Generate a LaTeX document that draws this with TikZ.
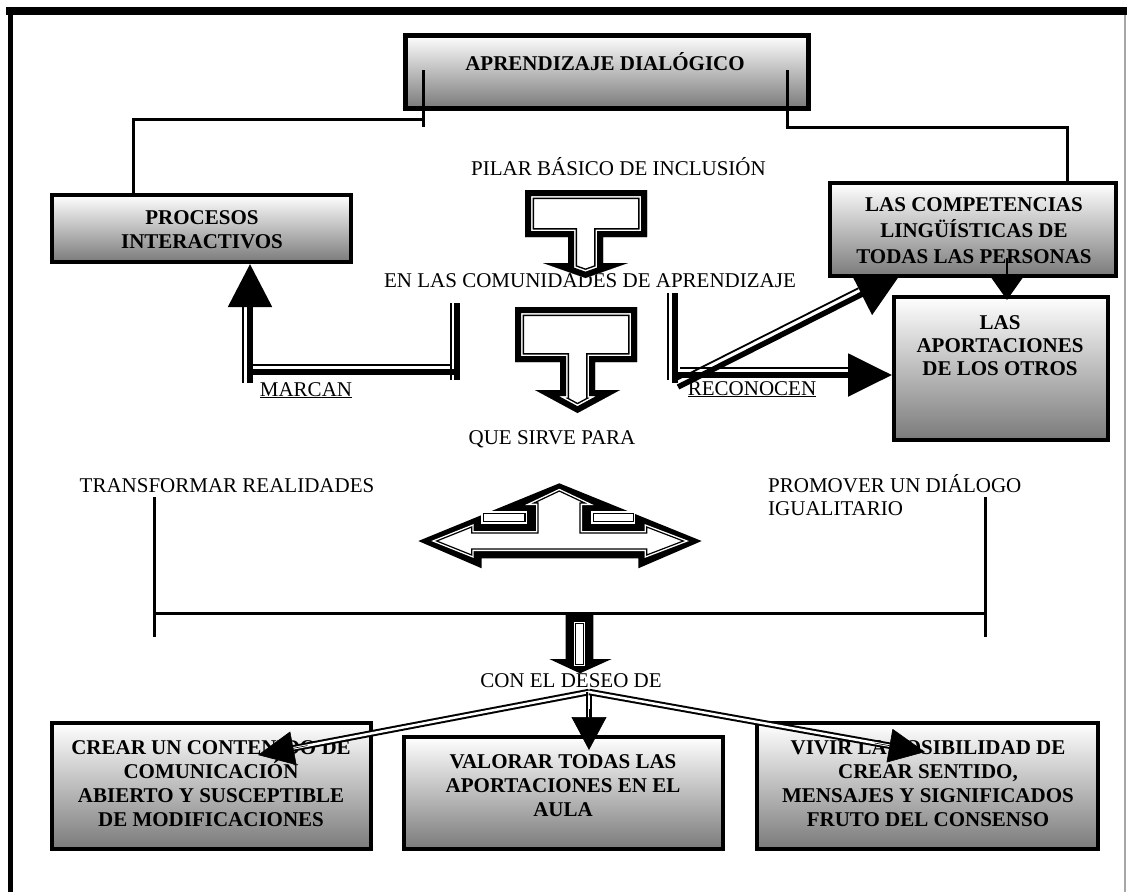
\documentclass[tikz,border=0pt]{standalone}
\usepackage{fontspec}
\setmainfont{Liberation Serif}
\usetikzlibrary{arrows.meta,calc}
\pgfdeclarelayer{bg}
\pgfsetlayers{bg,main}
\tikzset{
  box/.style={draw=black, line width=4pt, top color=white, bottom color=black!52, inner sep=0pt, line join=miter},
  btxt/.style={inner sep=0pt, align=center, font=\bfseries\fontsize{21}{24}\selectfont},
  lbl/.style={inner sep=0pt, anchor=base, font=\fontsize{21}{24}\selectfont},
  conn/.style={line width=3pt, line join=miter},
  thk/.style={line width=5.5pt},
  thn/.style={line width=1.8pt},
  bigtip/.style={-{Triangle[length=43pt,width=43pt]}},
  dbl/.style={double=white, double distance=2.5pt, line width=2pt},
  smalltip/.style={line width=0.6pt, -{Triangle[length=36pt,width=34pt]}},
}
\newcommand\blockarrowdraw[1]{%
  \begin{scope}
    \clip #1;
    \fill[white] #1;
    \draw[line width=18pt, line join=miter] #1;
    \draw[white, line width=15pt, line join=miter] #1;
    \draw[line width=12pt, line join=miter] #1;
  \end{scope}}
\begin{document}
\begin{tikzpicture}[x=1pt,y=-1pt]
\useasboundingbox (0,0) rectangle (1127,892);
% frame
\coordinate (fTL) at (6,11); \coordinate (fTR) at (1127,11);
\coordinate (fL1) at (10,7); \coordinate (fL2) at (10,892);
\coordinate (fR1) at (1125,15); \coordinate (fR2) at (1125,892);
\draw[line width=8pt] (fTL) -- (fTR);
\draw[line width=5pt] (fL1) -- (fL2);
\draw[gray!70, line width=1.5pt] (fR1) -- (fR2);

% boxes
\node[box, line width=5pt, minimum width=403pt, minimum height=73pt] (title) at (606.5,71.5) {};
\node[box, minimum width=299pt, minimum height=67pt] (proc) at (201.5,228.5) {};
\node[box, minimum width=286pt, minimum height=93pt] (comp) at (973,229.5) {};
\node[box, minimum width=214pt, minimum height=143pt] (aport) at (1001,368.5) {};
\node[box, minimum width=319pt, minimum height=126pt] (crear) at (211.5,786) {};
\node[box, minimum width=319pt, minimum height=112pt] (valor) at (563.5,793) {};
\node[box, minimum width=341pt, minimum height=126pt] (vivir) at (927.5,786) {};

% box texts
\node[btxt] (titleT) at (605,61.5) {APRENDIZAJE DIALÓGICO};
\node[btxt] (procT) at (202,230) {PROCESOS\\INTERACTIVOS};
\node[btxt, font=\bfseries\fontsize{21}{26}\selectfont] (compT) at (974,230.5) {LAS COMPETENCIAS\\LINGÜÍSTICAS DE\\TODAS LAS PERSONAS};
\node[btxt, font=\bfseries\fontsize{21}{23}\selectfont] (aportT) at (1000,346) {LAS\\APORTACIONES\\DE LOS OTROS};
\node[btxt] (crearT) at (211,784) {CREAR UN CONTENIDO DE\\COMUNICACIÓN\\ABIERTO Y SUSCEPTIBLE\\DE MODIFICACIONES};
\node[btxt] (valorT) at (563,786) {VALORAR TODAS LAS\\APORTACIONES EN EL\\AULA};
\node[btxt] (vivirT) at (928,784) {VIVIR LA POSIBILIDAD DE\\CREAR SENTIDO,\\MENSAJES Y SIGNIFICADOS\\FRUTO DEL CONSENSO};

% labels
\node[lbl] (pilar) at (618.5,175) {PILAR BÁSICO DE INCLUSIÓN};
\node[lbl] (comun) at (590,287) {EN LAS COMUNIDADES DE APRENDIZAJE};
\node[lbl] (sirve) at (552,444) {QUE SIRVE PARA};
\node[lbl] (marcan) at (306,396) {\underline{MARCAN}};
\node[lbl] (recon) at (752,395) {\underline{RECONOCEN}};
\node[lbl] (trans) at (227,492) {TRANSFORMAR REALIDADES};
\node[lbl, anchor=base west] (prom) at (768,492) {PROMOVER UN DIÁLOGO};
\node[lbl, anchor=base west] (igual) at (768,515) {IGUALITARIO};
\node[lbl] (deseo) at (571,687) {CON EL DESEO DE};

% top connectors
\coordinate (tl1) at (423,70); \coordinate (tl2) at (423,127);
\coordinate (tl3) at (423,119); \coordinate (tl4) at (133,119);
\draw[conn] (tl1) -- (tl2);
\draw[conn] (tl3) -- (tl4) -- (tl4 |- proc.north);
\coordinate (tr1) at (787,70); \coordinate (tr2) at (787,127); \coordinate (tr3) at (1067,127);
\draw[conn] (tr1) -- (tr2) -- (tr3) -- (tr3 |- comp.north);

% block arrows (down)
\blockarrowdraw{(525,190) -- (647,190) -- (647,237) -- (603,237) -- (603,263) -- (628,263) -- (585.5,278) -- (543,263) -- (568,263) -- (568,237) -- (525,237) -- cycle}
\blockarrowdraw{(515,307) -- (637,307) -- (637,362) -- (595,362) -- (595,390) -- (620,390) -- (577.5,413) -- (535,390) -- (560,390) -- (560,362) -- (515,362) -- cycle}

% MARCAN connector
\coordinate (mA) at (457,303); \coordinate (mB) at (457,380);
\coordinate (mC) at (457,372); \coordinate (mD) at (250,372);
\coordinate (mE) at (250,383);
\draw[thk] (mA) -- (mB);
\draw[thk] (mC) -- (mD);
\draw[thk, bigtip] (mE) -- (mE |- proc.south);
\coordinate (mtA) at (451,303); \coordinate (mtB) at (451,380);
\coordinate (mtC) at (451,365); \coordinate (mtD) at (253,365);
\coordinate (mtE) at (243,383); \coordinate (mtF) at (243,306);
\draw[thn] (mtA) -- (mtB);
\draw[thn] (mtC) -- (mtD);
\draw[thn] (mtE) -- (mtF);

% RECONOCEN connectors
\coordinate (rA) at (675,293); \coordinate (rB) at (675,383);
\coordinate (rC) at (675,375);
\draw[thk] (rA) -- (rB);
\draw[thk, -{Triangle[length=44pt,width=42pt]}] (rC) -- (rC -| aport.west);
\coordinate (rtA) at (668,293); \coordinate (rtB) at (668,380);
\coordinate (rtC) at (680,368); \coordinate (rtD) at (848,368);
\draw[thn] (rtA) -- (rtB);
\draw[thn] (rtC) -- (rtD);
\coordinate (dA) at (678,387); \coordinate (dB) at (900,275);
\coordinate (dtA) at (674.8,380.8); \coordinate (dtB) at (858.4,288.2);
\begin{pgfonlayer}{bg}
\draw[thk, -{Triangle[length=43pt,width=45pt]}] (dA) -- (dB);
\draw[thn] (dtA) -- (dtB);
\end{pgfonlayer}

% competencias -> aportaciones
\coordinate (caA) at (1007,258); \coordinate (caB) at (1007,300);
\draw[line width=2pt, -{Triangle[length=23pt,width=32pt]}] (caA) -- (caB);

% left-right-up block arrow
\fill (418.3,541) -- (559.3,483.3) -- (701.7,541) -- (638.3,568.3) -- (638.3,558.3) -- (481.7,558.3) -- (481.7,568.3) -- cycle;
\def\lruinner{(436.7,541) -- (471.7,527) -- (471.7,533) -- (538,533) -- (538,503) -- (534,503) -- (559.3,491) -- (584.7,503) -- (580,503) -- (580,533) -- (646.7,533) -- (646.7,527) -- (683.3,541) -- (646.7,555) -- (646.7,549) -- (471.7,549) -- (471.7,555) -- cycle}
\draw[white, line width=4pt, line join=miter] \lruinner;
\draw[line width=1.2pt, fill=white, line join=miter] \lruinner;
\draw[white, line width=4pt] (483.3,513.3) rectangle (525,521.7);
\draw[line width=1.2pt, fill=white] (483.3,513.3) rectangle (525,521.7);
\draw[white, line width=4pt] (593.3,513.3) rectangle (633.3,521.7);
\draw[line width=1.2pt, fill=white] (593.3,513.3) rectangle (633.3,521.7);

% bracket line
\coordinate (hA) at (154,497); \coordinate (hB) at (154,637);
\coordinate (hC) at (985,497); \coordinate (hD) at (985,637);
\coordinate (hE) at (154,613); \coordinate (hF) at (985,613);
\draw[conn] (hA) -- (hB);
\draw[conn] (hC) -- (hD);
\draw[conn] (hE) -- (hF);

% down arrow under bracket
\fill (565.7,614) -- (593.3,614) -- (593.3,659) -- (611.7,659) -- (580,673.3) -- (549.3,659) -- (565.7,659) -- cycle;
\draw[white, line width=3pt] (575.5,623) rectangle (583,664);
\draw[line width=1pt, fill=white] (575.5,623) rectangle (583,664);

% bottom arrows
\coordinate (apex) at (589,692);
\coordinate (tipL) at (258,755);
\coordinate (tipC) at (589,750);
\coordinate (tipR) at (925,752);
\draw[dbl] (apex) -- ($(apex)!0.93!(tipL)$);
\draw[dbl] (apex) -- ($(apex)!0.5!(tipC)$);
\draw[dbl] (apex) -- ($(apex)!0.93!(tipR)$);
\draw[smalltip] ($(apex)!0.85!(tipL)$) -- (tipL);
\draw[smalltip, -{Triangle[length=33pt,width=35pt]}] ($(apex)!0.3!(tipC)$) -- (tipC);
\draw[smalltip] ($(apex)!0.85!(tipR)$) -- (tipR);
\end{tikzpicture}
\end{document}
